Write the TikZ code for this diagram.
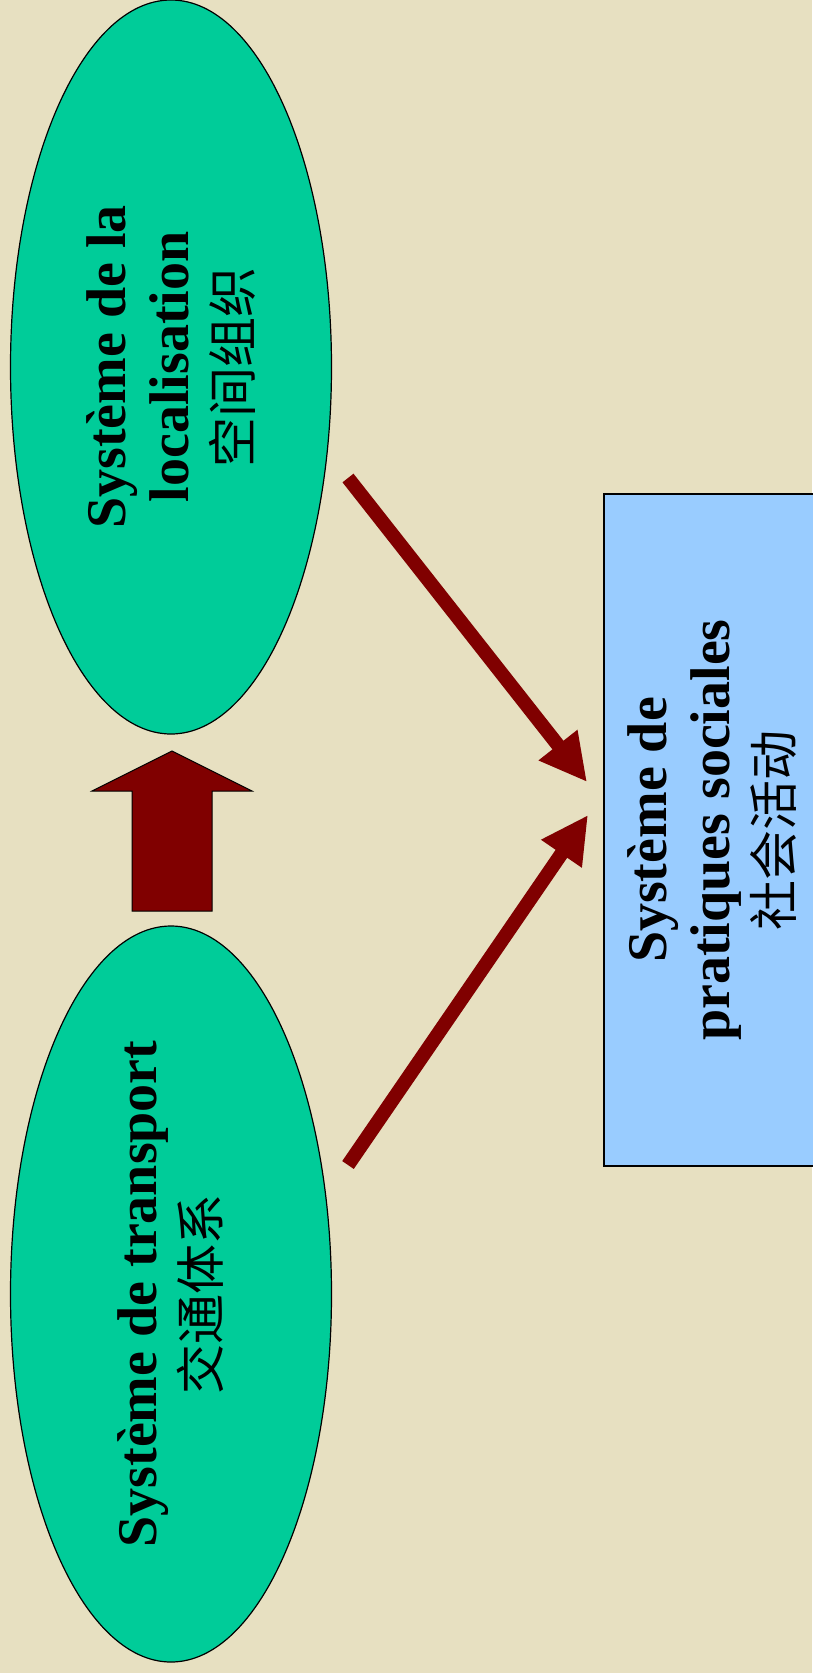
\documentclass[tikz,border=0pt]{standalone}
\usepackage{fontspec}
\setmainfont{Liberation Serif}
\newfontfamily\cjk{Noto Sans CJK SC}
\usetikzlibrary{arrows.meta,shapes.geometric}

\definecolor{paper}{RGB}{231,224,193}
\definecolor{leaf}{HTML}{00CC99}
\definecolor{sky}{HTML}{99CCFF}
\definecolor{wine}{HTML}{800000}

\tikzset{
  sysnode/.style={draw=black, line width=1.2pt, rotate=90, inner sep=0pt,
    align=center, font=\bfseries\fontsize{56pt}{63pt}\selectfont},
  oval/.style={sysnode, ellipse, fill=leaf, minimum height=321pt},
  box/.style={sysnode, rectangle, fill=sky},
  flow/.style={wine, line width=14pt, -{Triangle[length=47pt,width=46pt]}},
  lift/.style={fill=wine, draw=black, line width=1pt, line join=miter},
  zh/.style={}
}
\newcommand{\zhline}[1]{{\cjk\mdseries\fontsize{50pt}{63pt}\selectfont #1}}

\begin{document}
\begin{tikzpicture}[x=1pt, y=-1pt]
  % page and background
  \path[use as bounding box, fill=paper] (0,0) rectangle (812,1673);

  % the three systems
  \node[oval, minimum width=734pt] (loc) at (171,367)
    {Système de la\\localisation\\\zhline{空间组织}};
  \node[oval, minimum width=736pt] (trans) at (171,1294)
    {Système de transport\\\zhline{交通体系}};
  \node[box, minimum width=672pt, minimum height=217pt] (soc) at (712.5,830)
    {Système de\\pratiques sociales\\\zhline{社会活动}};

  % block arrow from transport up to localisation
  \coordinate (liftTip) at (172,751);
  \draw[lift] (liftTip) -- (252,791) -- (212,791) -- (212,911)
    -- (132,911) -- (132,791) -- (92,791) -- cycle;

  % influence arrows towards the social practices
  \coordinate (fromLoc) at (348,478);
  \coordinate (toSocA) at (587,782);
  \coordinate (fromTrans) at (348,1165);
  \coordinate (toSocB) at (588,815);
  \draw[flow] (fromLoc) -- (toSocA);
  \draw[flow] (fromTrans) -- (toSocB);
\end{tikzpicture}
\end{document}
